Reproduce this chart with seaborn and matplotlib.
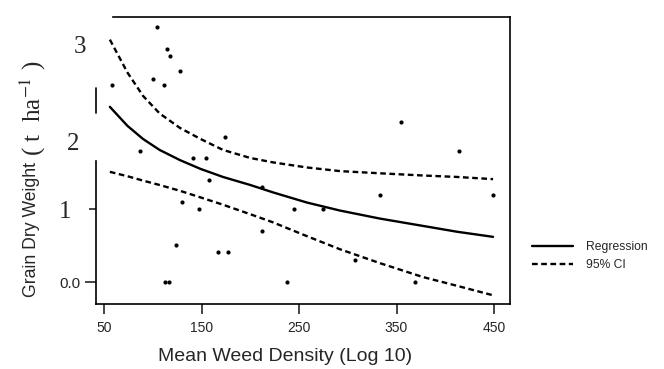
import seaborn as sns
import pandas as pd
import matplotlib.pyplot as plt

# donnees
weed_density = [104, 115, 118, 128, 100, 112, 58, 87, 141, 155, 174, 158, 130, 147,
                124, 113, 117, 167, 177, 212, 212, 238, 245, 275, 307, 333, 355, 369,
                414, 449]
grain_weight = [3.49, 3.19, 3.10, 2.89, 2.78, 2.70, 2.70, 1.79, 1.70, 1.70, 1.99, 1.40,
                1.10, 1.00, 0.51, 0.0, 0.0, 0.41, 0.41, 1.30, 0.70, 0.0, 1.00, 1.00,
                0.30, 1.19, 2.19, 0.0, 1.79, 1.19]

curve_x = [56, 74, 90, 107, 128, 149, 172, 200, 223, 258, 292, 333, 377, 412, 449]
regression = [2.40, 2.14, 1.96, 1.81, 1.67, 1.55, 1.44, 1.33, 1.23, 1.09, 0.98, 0.87,
              0.77, 0.69, 0.62]
ci_low = [1.51, 1.45, 1.39, 1.33, 1.25, 1.16, 1.06, 0.93, 0.82, 0.63, 0.45, 0.26,
          0.07, -0.05, -0.18]
ci_high = [3.32, 2.87, 2.55, 2.31, 2.11, 1.96, 1.81, 1.70, 1.64, 1.57, 1.52, 1.49,
           1.46, 1.44, 1.41]

x_ticks = [50, 150, 250, 350, 450]
y_ticks = [0, 1, 1.93, 3.25]
y_labels = ["0.0", "1", "2", "3"]

sns.set_style("ticks")
plt.rcParams["mathtext.fontset"] = "stix"
fig = plt.figure(figsize=(6.64, 3.69), dpi=100)
ax = fig.add_axes([0.1446, 0.176, 0.6235, 0.778])

sns.scatterplot(x=weed_density, y=grain_weight, color="black", s=9, linewidth=0,
                ax=ax, legend=False)
sns.lineplot(x=curve_x, y=regression, color="black", lw=1.7, ax=ax, label="Regression")
sns.lineplot(x=curve_x, y=ci_low, color="black", lw=1.7, ax=ax, label="95% CI",
             linestyle=(0, (2.4, 1.5)))
sns.lineplot(x=curve_x, y=ci_high, color="black", lw=1.7, ax=ax,
             linestyle=(0, (2.4, 1.5)))

ax.set_xlim(41.8, 466.4)
ax.set_ylim(-0.30, 3.63)

# cadre abime comme sur le scan
ax.spines["left"].set_bounds(-0.30, 1.66)
ax.spines["top"].set_bounds(59, 466.4)
for s in ax.spines.values():
    s.set_linewidth(1.2)
    s.set_color("black")
ax.plot([41.8, 41.8], [2.32, 2.66], color="black", lw=1.2, clip_on=False)

ax.set_xticks(x_ticks)
ax.set_xticklabels([str(v) for v in x_ticks], fontsize=10, family="Liberation Sans")
ax.tick_params(axis="x", length=7, width=1.2, pad=5)
ax.set_yticks(y_ticks)
ax.set_yticklabels(y_labels)
ax.tick_params(axis="y", length=8, width=1.2, pad=3)
label_x = [None, -0.022, -0.003, 0.014]
for i, t in enumerate(ax.yaxis.get_major_ticks()):
    lab = t.label1
    if i == 0:
        lab.set_fontfamily("Liberation Sans")
        lab.set_fontsize(11)
    else:
        lab.set_fontfamily("Liberation Serif")
        lab.set_fontsize(18)
        lab.set_x(label_x[i])
    if i == 1:
        t.tick1line.set_markersize(5)
    if i >= 2:
        t.tick1line.set_visible(False)

ax.set_xlabel("")
ax.set_ylabel("")
fig.text(0.429, 0.035, "Mean Weed Density (Log 10)", ha="center", va="center",
         fontsize=14, family="Liberation Sans")
fig.text(0.047, 0.195, "Grain Dry Weight", rotation=90, ha="center", va="bottom",
         fontsize=12.7, family="Liberation Sans")
fig.text(0.049, 0.577, "( t  ha$^{-1}$ )", rotation=90, ha="center", va="bottom",
         fontsize=18, family="Liberation Serif")

ax.legend(loc="center left", bbox_to_anchor=(1.041, 0.167), frameon=False,
          borderaxespad=0, prop={"family": "Liberation Sans", "size": 8.7},
          handlelength=3.4, labelspacing=0.45, handletextpad=1.1)

fig.savefig("out.png", dpi=100)
